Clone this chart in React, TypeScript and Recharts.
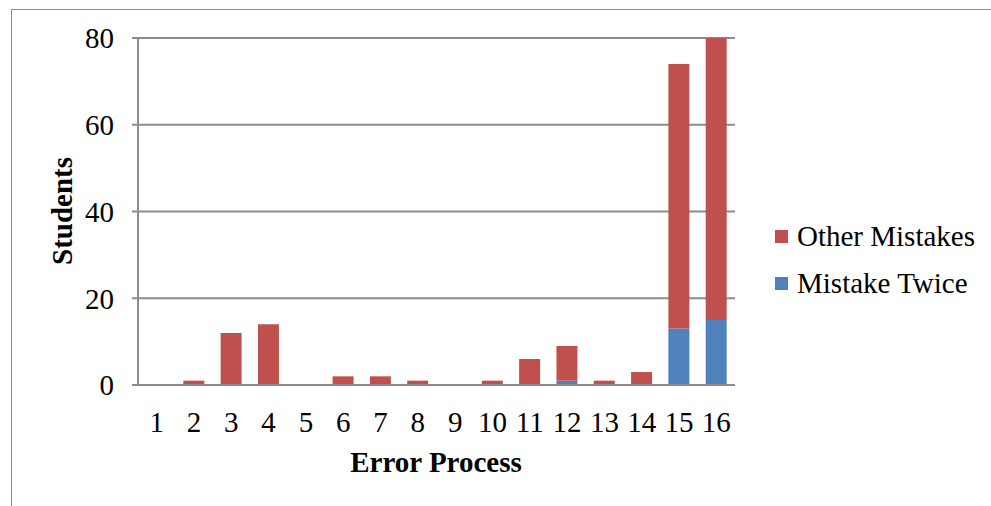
import { Bar, BarChart, CartesianGrid, Label, XAxis, YAxis } from "recharts";

const processes = ["1", "2", "3", "4", "5", "6", "7", "8", "9", "10", "11", "12", "13", "14", "15", "16"];
const mistakeTwice = [0, 0, 0, 0, 0, 0, 0, 0, 0, 0, 0, 1, 0, 0, 13, 15];
const otherMistakes = [0, 1, 12, 14, 0, 2, 2, 1, 0, 1, 6, 8, 1, 3, 61, 65];
const yTicks = [0, 20, 40, 60, 80];

const FONT = '"Liberation Serif", "Times New Roman", serif';
const FS = 29;

const data = processes.map((p, i) => ({
  process: p,
  twice: mistakeTwice[i],
  other: otherMistakes[i],
}));

// legend order is reversed vs. stacking order, like the original
const legendItems = [
  { name: "Other Mistakes", color: "#C0504D" },
  { name: "Mistake Twice", color: "#4F81BD" },
];

function LegendBox() {
  return (
    <div
      style={{
        position: "absolute",
        left: 775,
        top: 213,
        fontFamily: FONT,
        fontSize: FS,
        color: "#000",
        lineHeight: "47px",
      }}
    >
      {legendItems.map((item) => (
        <div key={item.name} style={{ display: "flex", alignItems: "center", height: 47 }}>
          <span style={{ width: 13, height: 13, background: item.color, marginRight: 9 }} />
          <span>{item.name}</span>
        </div>
      ))}
    </div>
  );
}

export default function App() {
  return (
    <div style={{ position: "absolute", left: 0, top: 0, width: 991, height: 506, background: "#fff" }}>
      {/* frame left over from the cropped page */}
      <div
        style={{
          position: "absolute",
          left: 11,
          top: 9,
          right: 0,
          bottom: 0,
          borderLeft: "1.5px solid #8c8c8c",
          borderTop: "1.5px solid #8c8c8c",
        }}
      />
      <BarChart
        width={991}
        height={506}
        data={data}
        margin={{ top: 38, right: 256, bottom: 0, left: 0 }}
        barSize={21}
        style={{ position: "absolute", left: 0, top: 0, fontFamily: FONT }}
      >
        <CartesianGrid vertical={false} stroke="#8c8c8c" strokeWidth={2} />
        <XAxis
          dataKey="process"
          tickLine={false}
          axisLine={{ stroke: "#8c8c8c", strokeWidth: 2 }}
          tick={{ fill: "#000", fontSize: FS, fontFamily: FONT }}
          tickMargin={20}
          interval={0}
          height={121}
        >
          <Label
            content={() => (
              <text x={436} y={472} textAnchor="middle" fontFamily={FONT} fontSize={FS} fontWeight="bold" fill="#000">
                Error Process
              </text>
            )}
          />
        </XAxis>
        <YAxis
          width={138}
          domain={[0, 80]}
          ticks={yTicks}
          interval={0}
          tickSize={6}
          tickMargin={18}
          tickLine={{ stroke: "#8c8c8c", strokeWidth: 2 }}
          axisLine={{ stroke: "#8c8c8c", strokeWidth: 2 }}
          tick={{ fill: "#000", fontSize: FS, fontFamily: FONT }}
        >
          <Label
            content={() => (
              <text
                x={72}
                y={211}
                textAnchor="middle"
                transform="rotate(-90 72 211)"
                fontFamily={FONT}
                fontSize={FS}
                fontWeight="bold"
                fill="#000"
              >
                Students
              </text>
            )}
          />
        </YAxis>
        <Bar dataKey="twice" name="Mistake Twice" stackId="s" fill="#4F81BD" isAnimationActive={false} />
        <Bar dataKey="other" name="Other Mistakes" stackId="s" fill="#C0504D" isAnimationActive={false} />
      </BarChart>
      <LegendBox />
    </div>
  );
}
